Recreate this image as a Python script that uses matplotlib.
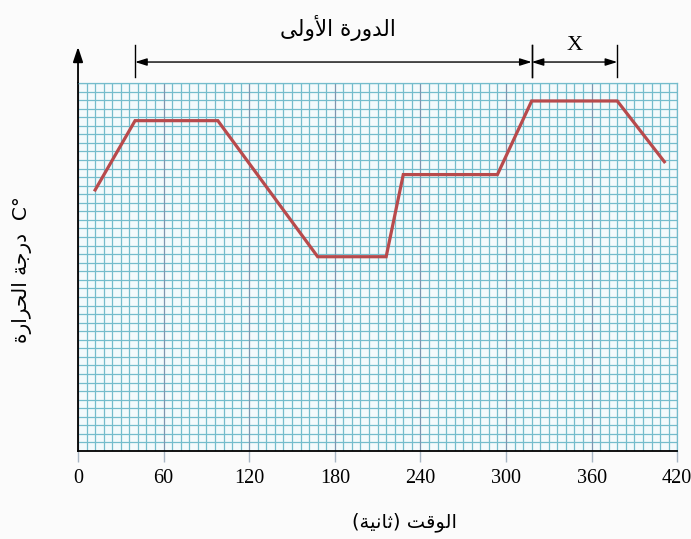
import numpy as np
import matplotlib
matplotlib.use("Agg")
import matplotlib.pyplot as plt
from matplotlib.transforms import blended_transform_factory

# data (time in s, temperature in grid cells)
time_s = [12, 40, 98, 168, 216, 228, 294, 318, 378, 411]
temp_cells = [30.5, 38.6, 38.6, 22.7, 22.7, 32.3, 32.3, 40.9, 40.9, 33.8]
x_ticks = [0, 60, 120, 180, 240, 300, 360, 420]
cycle_span = (40, 318)
x_span = (318, 378)

title_text = "الدورة الأولى"
xlabel_text = "الوقت (ثانية)"
ylabel_text = "درجة الحرارة"

# matplotlib has no bidi/shaping, so map letters to presentation forms
FORMS = {
    "ا": ("\uFE8D", "\uFE8E", None, None),
    "أ": ("\uFE83", "\uFE84", None, None),
    "ة": ("\uFE93", "\uFE94", None, None),
    "ت": ("\uFE95", "\uFE96", "\uFE97", "\uFE98"),
    "ث": ("\uFE99", "\uFE9A", "\uFE9B", "\uFE9C"),
    "ج": ("\uFE9D", "\uFE9E", "\uFE9F", "\uFEA0"),
    "ح": ("\uFEA1", "\uFEA2", "\uFEA3", "\uFEA4"),
    "د": ("\uFEA9", "\uFEAA", None, None),
    "ر": ("\uFEAD", "\uFEAE", None, None),
    "ق": ("\uFED5", "\uFED6", "\uFED7", "\uFED8"),
    "ل": ("\uFEDD", "\uFEDE", "\uFEDF", "\uFEE0"),
    "ن": ("\uFEE5", "\uFEE6", "\uFEE7", "\uFEE8"),
    "و": ("\uFEED", "\uFEEE", None, None),
    "ى": ("\uFEEF", "\uFEF0", None, None),
    "ي": ("\uFEF1", "\uFEF2", "\uFEF3", "\uFEF4"),
}
LAM_ALEF = {"ا": ("\uFEFB", "\uFEFC"), "أ": ("\uFEF7", "\uFEF8")}
MIRROR = {"(": ")", ")": "("}


def shape(text):
    chars = list(text)
    out = []
    i = 0
    while i < len(chars):
        c = chars[i]
        if c not in FORMS:
            out.append(MIRROR.get(c, c))
            i += 1
            continue
        prev = chars[i - 1] if i > 0 else None
        joins_prev = prev in FORMS and FORMS[prev][2] is not None
        if c == "ل" and i + 1 < len(chars) and chars[i + 1] in LAM_ALEF:
            out.append(LAM_ALEF[chars[i + 1]][1 if joins_prev else 0])
            i += 2
            continue
        nxt = chars[i + 1] if i + 1 < len(chars) else None
        joins_next = nxt in FORMS and FORMS[c][2] is not None
        iso, fin, ini, med = FORMS[c]
        if joins_prev and joins_next:
            out.append(med)
        elif joins_prev:
            out.append(fin)
        elif joins_next:
            out.append(ini)
        else:
            out.append(iso)
        i += 1
    return "".join(reversed(out))


minor_col = "#74bccc"
major_col = "#7d96b0"
line_col = "#b84a4c"

fig = plt.figure(figsize=(6.91, 5.39), dpi=100)
fig.patch.set_facecolor("#fbfbfb")
ax = fig.add_axes([0.1129, 0.1633, 0.8671, 0.6827])
ax.set_facecolor("#f3fafc")

ax.set_xlim(0, 420)
ax.set_ylim(0, 43)
ax.set_xticks(x_ticks)
ax.set_xticks(np.arange(0, 421, 6), minor=True)
ax.set_yticks([])
ax.grid(which="minor", axis="x", color=minor_col, lw=0.9)
ax.grid(which="major", axis="x", color=major_col, lw=0.9)
ax.set_axisbelow(True)
for yv in np.arange(0, 44, 1):
    ax.axhline(yv, color=minor_col, lw=0.9, zorder=0.5)

ax.tick_params(axis="x", which="minor", length=0)
ax.tick_params(axis="x", which="major", length=8, width=1.0, color="#a8b6c4",
               pad=5, labelsize=14.5)
ax.tick_params(axis="y", which="both", length=0)
for lab in ax.get_xticklabels():
    lab.set_fontfamily("Liberation Serif")

for s in ("top", "right"):
    ax.spines[s].set_color(minor_col)
    ax.spines[s].set_linewidth(0.9)
ax.spines["left"].set_color("black")
ax.spines["bottom"].set_color("black")
ax.spines["left"].set_linewidth(1.3)
ax.spines["bottom"].set_linewidth(1.3)

ax.plot(time_s, temp_cells, color=line_col, lw=2.3, solid_joinstyle="miter",
        zorder=3)

# y axis arrow
ax.annotate("", xy=(0, 1.098), xytext=(0, 1.0), xycoords="axes fraction",
            arrowprops=dict(arrowstyle="-|>,head_length=0.9,head_width=0.3",
                            color="black", lw=1.3, shrinkA=0, shrinkB=0))

# cycle markers above the plot
tr = blended_transform_factory(ax.transData, ax.transAxes)
arr_y = 1.057
for a, b in (cycle_span, x_span):
    ax.annotate("", xy=(a, arr_y), xytext=(b, arr_y), xycoords=tr,
                arrowprops=dict(arrowstyle="<|-|>,head_length=0.7,head_width=0.22",
                                color="black", lw=1.0, shrinkA=0, shrinkB=0))
    for xv in (a, b):
        ax.plot([xv, xv], [1.016, 1.103], color="black", lw=1.0,
                transform=tr, clip_on=False)

ax.text(182, 1.15, shape(title_text), transform=tr, ha="center",
        va="center", fontsize=15.5, family="DejaVu Sans")
ax.text(348, 1.103, "X", transform=tr, ha="center", va="center",
        fontsize=16, family="Liberation Serif")

fig.text(0.586, 0.032, shape(xlabel_text), ha="center", va="center",
         fontsize=14, family="DejaVu Sans")
fig.text(0.032, 0.5, shape(ylabel_text) + "  C°", ha="center", va="center",
         rotation=90, fontsize=14.5, family=["DejaVu Sans"])

fig.savefig("out.png", dpi=100, facecolor=fig.get_facecolor())
